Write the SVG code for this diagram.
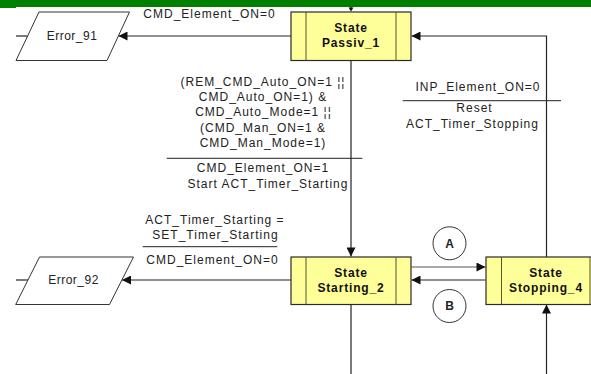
<svg xmlns="http://www.w3.org/2000/svg" width="591" height="374" viewBox="0 0 591 374">
<style>
.bg{fill:#ffffff}
.band{fill:#008000}
.box{fill:#ffff99;stroke:#2a2a2a;stroke-width:1.2}
.inner{stroke:#555533;stroke-width:1}
.para{fill:#ffffff;stroke:#333333;stroke-width:1}
.circ{fill:#ffffff;stroke:#333333;stroke-width:1}
.con{fill:none;stroke:#222222;stroke-width:1.2}
.sep{stroke:#222222;stroke-width:1}
.st{font-family:"Liberation Sans",Arial,sans-serif;font-size:12px;font-weight:bold;fill:#111111;text-anchor:middle;letter-spacing:0.85px}
.lb{font-family:"Liberation Sans",Arial,sans-serif;font-size:12px;fill:#222222;text-anchor:middle;letter-spacing:1px}
.er{font-family:"Liberation Sans",Arial,sans-serif;font-size:12px;fill:#222222;text-anchor:middle;letter-spacing:0.5px}
.cl{font-family:"Liberation Sans",Arial,sans-serif;font-size:12px;font-weight:bold;fill:#222222;text-anchor:middle}
</style>
<defs>
<marker id="ah" viewBox="0 0 10 10" refX="10" refY="5" markerUnits="userSpaceOnUse" markerWidth="11" markerHeight="9" orient="auto">
<path d="M0,0 L10,5 L0,10 z" fill="#111111"/>
</marker>
</defs>
<rect class="bg" x="0" y="0" width="591" height="374"/>
<rect class="band" x="0" y="0" width="591" height="7"/>
<rect class="band" x="0" y="0" width="16" height="8"/>

<g id="connectors">
<line class="con" x1="291" y1="36" x2="118.5" y2="36" marker-end="url(#ah)"/>
<line class="con" x1="16" y1="36" x2="27.5" y2="36"/>
<polyline class="con" points="546.5,257 546.5,36 411.5,36" marker-end="url(#ah)"/>
<line class="con" x1="351" y1="60.5" x2="351" y2="256.5" marker-end="url(#ah)"/>
<line class="con" x1="291" y1="280" x2="122" y2="280" marker-end="url(#ah)"/>
<line class="con" x1="16" y1="280" x2="28" y2="280"/>
<line class="con" x1="411.5" y1="267" x2="485.5" y2="267" marker-end="url(#ah)" style="stroke:#555555"/>
<line class="con" x1="485.5" y1="280" x2="411.5" y2="280" marker-end="url(#ah)"/>
<line class="con" x1="351" y1="304.5" x2="351" y2="374"/>
<line class="con" x1="546.5" y1="374" x2="546.5" y2="304.5" marker-end="url(#ah)"/>
<line class="con" x1="351" y1="7" x2="351" y2="9"/>
<polygon points="348.5,7.5 353.5,7.5 351,11.5" fill="#111111"/>
</g>

<g id="state_passiv_1">
<rect class="box" x="291" y="12" width="120" height="48.5"/>
<line class="inner" x1="306" y1="12" x2="306" y2="60.5"/>
<line class="inner" x1="396" y1="12" x2="396" y2="60.5"/>
<text class="st" x="351" y="31.7">State</text>
<text class="st" x="351" y="46.7">Passiv_1</text>
</g>

<g id="state_starting_2">
<rect class="box" x="291" y="257" width="120" height="47.5"/>
<line class="inner" x1="306" y1="257" x2="306" y2="304.5"/>
<line class="inner" x1="396" y1="257" x2="396" y2="304.5"/>
<text class="st" x="351" y="276.7">State</text>
<text class="st" x="351" y="291.7">Starting_2</text>
</g>

<g id="state_stopping_4">
<rect class="box" x="486" y="257" width="120" height="47.5"/>
<line class="inner" x1="501.5" y1="257" x2="501.5" y2="304.5"/>
<line class="inner" x1="590" y1="257" x2="590" y2="304.5"/>
<text class="st" x="546" y="276.7">State</text>
<text class="st" x="546" y="291.7">Stopping_4</text>
</g>

<g id="error_91">
<polygon class="para" points="39,12 129.5,12 107,60.5 16,60.5"/>
<text class="er" x="72" y="39.5">Error_91</text>
</g>

<g id="error_92">
<polygon class="para" points="39.5,257 133.5,257 109.5,304.5 15.7,304.5"/>
<text class="er" x="73.5" y="284">Error_92</text>
</g>

<g id="connector_A">
<circle class="circ" cx="449.5" cy="243.3" r="16.5"/>
<text class="cl" x="449.5" y="247.5">A</text>
</g>

<g id="connector_B">
<circle class="circ" cx="449.5" cy="306" r="16.5"/>
<text class="cl" x="449.5" y="310">B</text>
</g>

<g id="label_passiv_error91">
<text class="lb" x="209.5" y="18.3">CMD_Element_ON=0</text>
</g>

<g id="label_passiv_starting">
<text class="lb" x="263" y="86">(REM_CMD_Auto_ON=1 ¦¦</text>
<text class="lb" x="263" y="101">CMD_Auto_ON=1) &amp;</text>
<text class="lb" x="263.5" y="116">CMD_Auto_Mode=1 ¦¦</text>
<text class="lb" x="263" y="131.7">(CMD_Man_ON=1 &amp;</text>
<text class="lb" x="263" y="146.7">CMD_Man_Mode=1)</text>
<line class="sep" x1="166.7" y1="158.3" x2="362.3" y2="158.3"/>
<text class="lb" x="263" y="171.7">CMD_Element_ON=1</text>
<text class="lb" x="268" y="188.3">Start ACT_Timer_Starting</text>
</g>

<g id="label_stopping_passiv">
<text class="lb" x="478" y="91">INP_Element_ON=0</text>
<line class="sep" x1="402.7" y1="100.7" x2="561" y2="100.7"/>
<text class="lb" x="474.5" y="111.7">Reset</text>
<text class="lb" x="472.5" y="128.3">ACT_Timer_Stopping</text>
</g>

<g id="label_starting_error92">
<text class="lb" x="215" y="224">ACT_Timer_Starting =</text>
<text class="lb" x="215.5" y="239.3">SET_Timer_Starting</text>
<line class="sep" x1="142.7" y1="246.7" x2="277.3" y2="246.7"/>
<text class="lb" x="212.5" y="264">CMD_Element_ON=0</text>
</g>
</svg>
